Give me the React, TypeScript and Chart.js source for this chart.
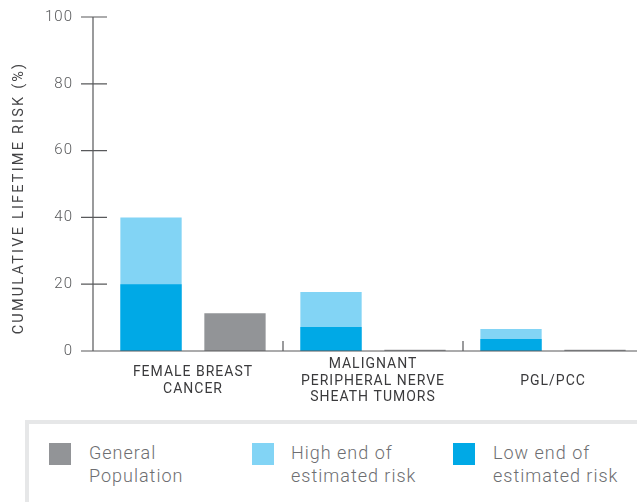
import React, { useEffect, useRef } from "react";
import { Chart, registerables } from "chart.js";

Chart.register(...registerables);

const categories: string[][] = [
  ["FEMALE BREAST", "CANCER"],
  ["MALIGNANT", "PERIPHERAL NERVE", "SHEATH TUMORS"],
  ["PGL/PCC"],
];
const lowEnd: number[] = [20, 7.2, 3.6];
const highEnd: number[] = [40, 17.7, 6.6];
const generalPopulation: number[] = [11.3, 0.4, 0.4];
const yTicks: number[] = [0, 20, 40, 60, 80, 100];
const yTitle = "CUMULATIVE LIFETIME RISK (%)";

const COLORS = {
  low: "#00a9e6",
  high: "#82d4f5",
  gray: "#929497",
  axis: "#58595b",
};

const legendItems = [
  { color: COLORS.gray, lines: ["General", "Population"] },
  { color: COLORS.high, lines: ["High end of", "estimated risk"] },
  { color: COLORS.low, lines: ["Low end of", "estimated risk"] },
];

const axesPlugin = {
  id: "customAxes",
  beforeUpdate(chart: any) {
    chart.ctx.letterSpacing = "1px";
  },
  beforeDraw(chart: any) {
    chart.ctx.letterSpacing = "1px";
  },
  afterDatasetsDraw(chart: any) {
    const { ctx, chartArea, scales } = chart;
    const x = scales.x;
    const y = scales.y;
    const axisX = chartArea.left - 10;
    const y0 = y.getPixelForValue(0);
    const yTop = y.getPixelForValue(100);
    ctx.save();
    ctx.strokeStyle = COLORS.axis;
    ctx.lineWidth = 1.2;
    ctx.beginPath();
    ctx.moveTo(axisX, yTop);
    ctx.lineTo(axisX, y0);
    for (const v of yTicks) {
      const py = y.getPixelForValue(v);
      ctx.moveTo(axisX - 12, py);
      ctx.lineTo(axisX + 14, py);
    }
    ctx.moveTo(axisX - 12, y0);
    ctx.lineTo(chart.width, y0);
    for (let i = 0; i < categories.length; i++) {
      const px = x.getPixelForValue(i + 0.5);
      ctx.moveTo(px, y0 - 10);
      ctx.lineTo(px, y0);
    }
    ctx.stroke();
    ctx.restore();
  },
  afterDraw(chart: any) {
    const { ctx } = chart;
    ctx.save();
    ctx.translate(19, 198);
    ctx.rotate(-Math.PI / 2);
    ctx.font = "400 14.5px Roboto";
    (ctx as any).letterSpacing = "2.2px";
    ctx.fillStyle = "#444446";
    ctx.textAlign = "center";
    ctx.textBaseline = "middle";
    ctx.fillText(yTitle, 0, 0);
    ctx.restore();
  },
};

export default function App() {
  const canvasRef = useRef<HTMLCanvasElement | null>(null);

  useEffect(() => {
    if (!canvasRef.current) return;
    const chart = new Chart(canvasRef.current, {
      type: "bar",
      data: {
        labels: categories as any,
        datasets: [
          {
            label: "Low end of estimated risk",
            data: lowEnd,
            backgroundColor: COLORS.low,
            stack: "risk",
          },
          {
            label: "High end of estimated risk",
            data: highEnd,
            backgroundColor: COLORS.high,
            stack: "risk",
          },
          {
            label: "General Population",
            data: generalPopulation,
            backgroundColor: COLORS.gray,
            stack: "pop",
          },
        ],
      },
      options: {
        responsive: false,
        animation: false,
        devicePixelRatio: 1,
        categoryPercentage: 0.933,
        barPercentage: 0.73,
        layout: { padding: { top: 17, right: 7, left: 0, bottom: 0 } },
        plugins: {
          legend: { display: false },
          tooltip: { enabled: false },
        },
        scales: {
          x: {
            stacked: true,
            grid: { display: false, drawTicks: false },
            border: { display: false },
            ticks: {
              padding: 13.5,
              crossAlign: "center",
              maxRotation: 0,
              autoSkip: false,
              color: "#3a3a3c",
              font: { family: "Roboto", size: 14, lineHeight: 1.18 },
            },
            afterFit: (s: any) => {
              s.height = 54;
              s.paddingLeft = 0;
              s.paddingRight = 0;
              s.paddingTop = 0;
              s.paddingBottom = 0;
            },
          },
          y: {
            stacked: false,
            min: 0,
            max: 100,
            grid: { display: false, drawTicks: false },
            border: { display: false },
            ticks: {
              stepSize: 20,
              padding: 30,
              color: "#58595b",
              font: { family: "Roboto", size: 15, weight: "300" },
            },
            afterFit: (s: any) => {
              s.width = 103;
              s.paddingTop = 0;
              s.paddingBottom = 0;
              s.paddingLeft = 0;
              s.paddingRight = 0;
            },
          },
        },
      } as any,
      plugins: [axesPlugin],
    });
    return () => chart.destroy();
  }, []);

  const textStyle: React.CSSProperties = {
    position: "absolute",
    top: 441,
    fontFamily: "Roboto, sans-serif",
    fontWeight: 300,
    fontSize: "18px",
    lineHeight: "23px",
    letterSpacing: "1px",
    color: "#6d6e71",
    whiteSpace: "nowrap",
  };
  const squareLefts = [49, 252, 453];
  const textLefts = [89, 291, 493];

  return (
    <div
      style={{
        position: "absolute",
        left: 0,
        top: 0,
        width: 637,
        height: 502,
        overflow: "hidden",
        background: "#ffffff",
      }}
    >
      <canvas
        ref={canvasRef}
        width={650}
        height={405}
        style={{ position: "absolute", left: 0, top: 0, width: 650, height: 405 }}
      />
      <div
        style={{
          position: "absolute",
          left: 25,
          top: 420,
          width: 700,
          height: 200,
          borderLeft: "4px solid #e6e7e8",
          borderTop: "4px solid #e6e7e8",
          boxSizing: "border-box",
        }}
      />
      {legendItems.map((item, i) => (
        <React.Fragment key={i}>
          <div
            style={{
              position: "absolute",
              left: squareLefts[i],
              top: 443,
              width: 22,
              height: 22,
              background: item.color,
            }}
          />
          <div style={{ ...textStyle, left: textLefts[i] }}>
            {item.lines.map((l, j) => (
              <div key={j}>{l}</div>
            ))}
          </div>
        </React.Fragment>
      ))}
    </div>
  );
}
